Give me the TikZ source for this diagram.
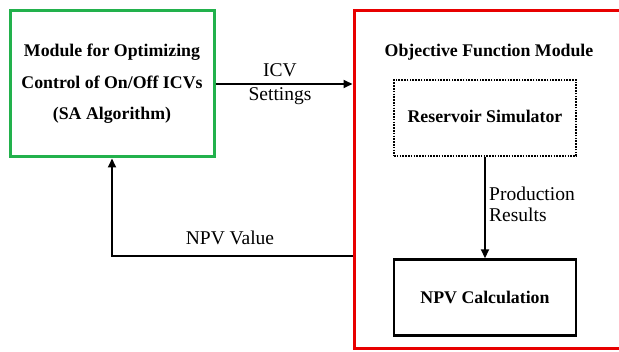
\documentclass[tikz,border=0pt]{standalone}
\usepackage{fontspec}
\setmainfont{Liberation Serif}
\usetikzlibrary{arrows.meta, positioning}
\definecolor{boxgreen}{RGB}{34,177,76}
\definecolor{boxred}{RGB}{232,0,0}

\begin{document}
\begin{tikzpicture}[x=1pt, y=-1pt,
    module/.style={draw, rectangle, line width=3pt, align=center,
        font=\fontsize{17.8}{31.5}\selectfont\bfseries},
    inner/.style={draw, rectangle, line width=2.4pt, minimum width=182pt,
        minimum height=76pt, font=\fontsize{17.8}{21}\selectfont\bfseries},
    lbl/.style={font=\fontsize{19.5}{21}\selectfont, inner sep=0pt},
    flow/.style={line width=1.8pt, -{Triangle[length=9pt,width=8pt]}}
]
    \useasboundingbox (0,0) rectangle (619,352);

    % Optimizer module (left)
    \node[module, boxgreen, text=black, minimum width=204pt, minimum height=146pt]
        (opt) at (112,84) {Module for Optimizing\\Control of On/Off ICVs\\(SA Algorithm)};

    % Objective function module (right, runs past the edge)
    \node[module, boxred, minimum width=286pt, minimum height=338pt]
        (obj) at (497,180) {};
    \node[font=\fontsize{17.8}{21}\selectfont\bfseries] (objtitle) at (489,52) {Objective Function Module};

    % Inner blocks
    \node[inner, dash pattern=on 1.6pt off 1.2pt] (sim) at (485,118) {\raisebox{3pt}{Reservoir Simulator}};
    \node[inner] (npv) at (485,297.5) {NPV Calculation};

    % ICV settings arrow
    \draw[flow] (opt.east) -- (opt.east -| obj.west);
    \node[lbl] (icv) at (280,70) {ICV};
    \node[lbl] (settings) at (280,96) {Settings};

    % Production results arrow
    \draw[flow] (sim.south) -- (npv.north);
    \node[lbl, align=left, anchor=west] (prod) at (489,204) {Production\\Results};

    % NPV feedback
    \coordinate (fb) at (obj.west |- 0,256);
    \draw[flow] (fb) -| (opt.south);
    \node[lbl] (npvval) at (230,238) {NPV Value};
\end{tikzpicture}
\end{document}
